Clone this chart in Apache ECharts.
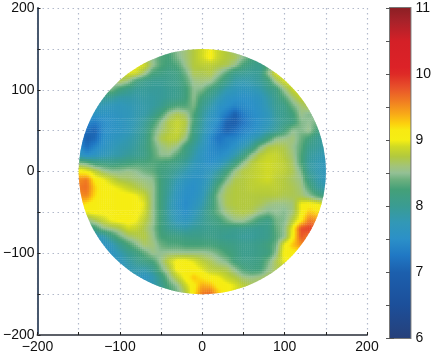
<!DOCTYPE html>
<html><head><meta charset="utf-8">
<style>html,body{margin:0;padding:0;background:#fff}#c{width:434px;height:359px}</style>
<script src="https://cdn.jsdelivr.net/npm/echarts@6/dist/echarts.min.js"></script>
</head><body><div id="c"></div>
<script>
// Colour scale
const scaleValues = [6,6.5,7,7.25,7.5,7.75,8,8.25,8.4,8.5,8.6,8.75,8.9,9,9.15,9.25,9.4,9.6,9.8,10,10.1,10.5,10.8,11];
const scaleColors = ['#26407a','#1c4f9a','#1c60ae','#2078c4','#2b90c8','#3298b6','#3a9c92','#44a078','#6db07f','#93c095','#a2c47a','#b2c93e','#d0da24','#f5ee14','#f8ea12','#fcd00e','#f8a818','#f07a22','#e8502a','#de2a26','#dc2227','#d42027','#a8222a','#8c1f24'];
const axisTicks = [-200,-100,0,100,200];
const barTicks = [6,7,8,9,10,11];
// y of each row; each row is centred on x = 0, 10 units per cell
const rowY = [150,140,130,120,110,100,90,80,70,60,50,40,30,20,10,0,-10,-20,-30,-40,-50,-60,-70,-80,-90,-100,-110,-120,-130,-140,-150];
const r150 = [8.3,8.5,8.6,8.75,8.9,9.0,8.85,8.75,8.5];
const r140 = [8.6,8.5,8.3,8.25,8.45,8.6,8.75,8.9,9.05,8.85,8.75,8.7,8.5,8.25,8.15];
const r130 = [9.0,8.9,8.55,8.3,8.2,8.3,8.55,8.75,8.8,8.8,8.75,8.7,8.55,8.25,8.1,8.05,8.3];
const r120 = [8.8,8.95,8.9,8.6,8.25,8.15,8.1,8.15,8.4,8.7,8.7,8.75,8.55,8.3,8.05,8.0,7.95,8.0,8.5,8.95,9.0];
const r110 = [8.55,8.7,8.55,8.2,8.05,8.0,8.0,8.05,8.1,8.3,8.55,8.6,8.55,8.3,8.05,7.85,7.8,7.85,7.95,8.15,8.6,8.9,9.0];
const r100 = [8.4,8.45,8.2,8.05,7.95,7.95,7.95,7.95,8.0,8.05,8.2,8.5,8.45,8.2,8.0,7.8,7.7,7.65,7.7,7.8,8.0,8.15,8.55,8.85,9.0];
const r90 = [8.0,7.95,7.85,7.85,7.85,7.9,7.9,7.95,8.0,8.05,8.2,8.5,8.2,8.0,7.8,7.6,7.55,7.5,7.55,7.65,7.85,8.05,8.3,8.6,8.85];
const r80 = [7.8,7.75,7.7,7.7,7.75,7.8,7.85,7.9,8.0,8.2,8.3,8.3,8.45,8.05,7.85,7.6,7.5,7.4,7.45,7.5,7.6,7.8,8.0,8.1,8.4,8.6,8.75];
const r70 = [7.6,7.6,7.6,7.6,7.65,7.7,7.8,7.85,8.0,8.25,8.55,8.7,8.6,8.3,7.95,7.7,7.5,7.3,7.0,7.3,7.45,7.55,7.7,7.95,8.05,8.2,8.55,8.45,8.55];
const r60 = [7.4,7.3,7.45,7.55,7.6,7.7,7.8,7.95,8.2,8.5,8.75,8.85,8.75,8.25,7.9,7.6,7.45,7.0,6.95,7.2,7.4,7.55,7.7,7.9,8.05,8.15,8.45,8.5,8.4];
const r50 = [7.15,7.05,7.45,7.55,7.6,7.7,7.85,8.0,8.35,8.6,8.75,8.85,8.7,8.15,7.85,7.55,7.3,7.0,7.15,7.35,7.45,7.6,7.8,7.95,8.2,8.5,8.45,8.55,8.2];
const r40 = [7.4,7.0,7.1,7.5,7.6,7.7,7.8,7.9,8.05,8.4,8.7,8.8,8.8,8.55,8.1,7.8,7.45,7.2,7.35,7.4,7.5,7.7,7.9,8.2,8.5,8.55,8.6,8.4,8.2,8.0,7.9];
const r30 = [7.5,7.15,7.4,7.55,7.7,7.8,7.85,7.95,8.1,8.35,8.55,8.65,8.55,8.2,7.95,7.7,7.45,7.35,7.4,7.55,7.75,8.0,8.45,8.7,8.75,8.7,8.55,8.35,8.05,7.95,7.85];
const r20 = [7.7,7.5,7.6,7.7,7.8,7.85,7.95,8.0,8.1,8.3,8.5,8.5,8.3,8.1,7.85,7.6,7.45,7.45,7.55,7.8,8.1,8.5,8.75,8.85,8.85,8.75,8.6,8.3,7.95,7.85,7.75];
const r10 = [8.5,8.4,8.2,8.15,8.1,8.15,8.2,8.25,8.25,8.3,8.25,8.2,8.1,7.95,7.75,7.6,7.5,7.6,7.85,8.15,8.5,8.75,8.85,8.9,8.85,8.8,8.65,8.3,7.9,7.8,7.7];
const r0 = [9.1,9.0,8.8,8.6,8.5,8.5,8.55,8.5,8.4,8.35,8.2,8.1,7.95,7.8,7.65,7.6,7.7,7.9,8.2,8.55,8.75,8.8,8.85,8.9,8.85,8.8,8.7,8.45,7.95,7.8,7.7];
const rm10 = [9.5,9.6,9.1,9.0,8.85,8.7,8.65,8.6,8.55,8.5,8.2,8.0,7.8,7.65,7.55,7.6,7.8,8.1,8.45,8.7,8.75,8.8,8.85,8.9,8.8,8.75,8.65,8.55,8.1,7.85,7.7];
const rm20 = [9.6,9.65,9.25,9.05,9.02,8.95,8.85,8.75,8.65,8.55,8.2,7.95,7.7,7.55,7.5,7.65,7.9,8.35,8.65,8.75,8.75,8.8,8.8,8.8,8.8,8.75,8.7,8.6,8.3,7.95,7.8];
const rm30 = [9.5,9.55,9.2,9.05,9.05,9.05,9.05,9.0,8.85,8.55,8.2,7.9,7.65,7.5,7.55,7.7,8.05,8.5,8.7,8.75,8.75,8.75,8.75,8.75,8.75,8.7,8.7,8.65,8.5,8.3,8.1];
const rm40 = [9.3,9.15,9.05,9.05,9.05,9.05,9.05,9.05,8.95,8.55,8.2,7.85,7.6,7.45,7.6,7.8,8.1,8.45,8.7,8.75,8.75,8.75,8.7,8.6,8.55,8.55,8.6,9.0,9.05,9.0,8.9];
const rm50 = [9.0,9.05,9.05,9.05,9.05,9.05,9.05,8.9,8.55,8.2,7.85,7.65,7.5,7.7,7.9,8.15,8.4,8.6,8.7,8.75,8.7,8.55,8.45,8.5,8.45,8.6,9.0,9.3,9.2];
const rm60 = [8.55,8.7,8.85,9.0,9.05,9.05,9.0,8.8,8.55,8.2,7.9,7.7,7.65,7.8,7.95,8.1,8.2,8.4,8.55,8.55,8.4,8.2,8.1,8.4,8.45,8.75,9.1,9.6,9.5];
const rm70 = [8.0,8.2,8.5,8.6,8.7,8.9,8.85,8.7,8.5,8.2,8.0,7.9,7.85,7.95,8.0,8.05,8.1,8.1,8.05,8.05,8.0,8.0,8.05,8.35,8.5,9.0,9.8,9.9,9.7];
const rm80 = [7.7,7.75,8.1,8.4,8.6,8.7,8.75,8.55,8.25,8.2,8.15,8.1,8.1,8.1,8.1,8.05,8.0,8.0,7.95,7.95,8.0,8.05,8.3,8.5,9.05,9.75,9.6];
const rm90 = [7.6,7.7,8.0,8.25,8.45,8.65,8.6,8.4,8.3,8.3,8.25,8.25,8.25,8.25,8.2,8.15,8.1,8.05,8.05,8.1,8.2,8.4,9.0,9.3,9.5];
const rm100 = [7.55,7.6,7.8,8.0,8.15,8.35,8.55,8.5,8.55,8.55,8.55,8.55,8.55,8.5,8.4,8.25,8.15,8.05,8.05,8.1,8.15,8.5,9.05,9.1,9.1];
const rm110 = [7.6,7.65,7.85,8.0,8.15,8.25,8.55,8.85,9.05,9.05,8.95,8.8,8.7,8.55,8.45,8.2,8.1,8.1,8.15,8.4,8.7,9.0,9.0];
const rm120 = [7.65,7.75,7.85,7.85,8.0,8.4,8.7,9.05,9.05,9.05,8.95,8.8,8.75,8.7,8.5,8.25,8.15,8.2,8.5,8.7,8.7];
const rm130 = [7.7,7.6,7.75,8.1,8.5,8.8,9.05,9.3,9.15,9.05,9.0,8.85,8.75,8.6,8.55,8.6,8.7];
const rm140 = [7.8,7.8,8.0,8.3,8.5,8.85,9.1,9.4,9.35,9.1,9.05,8.95,8.8,8.7,8.7];
const rm150 = [8.2,8.4,8.7,9.15,9.6,9.7,9.3,9.05,8.9];
const rows = [r150,r140,r130,r120,r110,r100,r90,r80,r70,r60,r50,r40,r30,r20,r10,r0,rm10,rm20,rm30,rm40,rm50,rm60,rm70,rm80,rm90,rm100,rm110,rm120,rm130,rm140,rm150];

const STEP = 10, SUB = 4;
const cellData = [];
const lookup = {};
rows.forEach((row, i) => {
  const start = -(row.length - 1) / 2 * STEP;
  row.forEach((v, j) => {
    const x = start + j * STEP, y = rowY[i];
    cellData.push([x, y, v]);
    lookup[x + '_' + y] = v;
  });
});
function colorOf(v) {
  v = Math.max(6, Math.min(11, v));
  let i = 0;
  while (i < scaleValues.length - 2 && v > scaleValues[i + 1]) i++;
  const t = (v - scaleValues[i]) / (scaleValues[i + 1] - scaleValues[i]);
  return echarts.color.lerp(t, [scaleColors[i], scaleColors[i + 1]]);
}
// Shading inside a cell: blends the neighbouring cells as the reference's smooth shading does
function shade(px, py, own) {
  const x0 = Math.floor(px / STEP) * STEP, y0 = Math.floor(py / STEP) * STEP;
  const tx = (px - x0) / STEP, ty = (py - y0) / STEP;
  let sum = 0, w = 0;
  [[x0,y0,(1-tx)*(1-ty)],[x0+STEP,y0,tx*(1-ty)],[x0,y0+STEP,(1-tx)*ty],[x0+STEP,y0+STEP,tx*ty]].forEach(c => {
    const v = lookup[c[0] + '_' + c[1]];
    if (v != null) { sum += v * c[2]; w += c[2]; }
  });
  return w > 0 ? sum / w : own;
}
const minus = s => s < 0 ? '\u2212' + Math.abs(s) : '' + s;
const font = {color:'#111', fontFamily:'"Liberation Sans", Arial, sans-serif', fontSize:14};
const dotted = {show:true, lineStyle:{type:[1.5,3.5], color:'#b2bacb', width:1.2}};

const option = {
  animation:false,
  backgroundColor:'#fff',
  grid:[
    {left:36, top:8, width:331, height:327},
    {left:390, top:8, width:24, height:330, show:true, borderColor:'#777', borderWidth:2, backgroundColor:'transparent'}
  ],
  xAxis:[
    {type:'value', gridIndex:0, min:-200, max:200, interval:50,
     axisLine:{show:true, onZero:false, lineStyle:{color:'#5c6068', width:2}},
     axisTick:{show:true, inside:true, length:3, lineStyle:{color:'#222'}},
     axisLabel:Object.assign({margin:5, showMinLabel:true, showMaxLabel:true, hideOverlap:false,
       formatter:v => axisTicks.includes(v) ? minus(v) : ''}, font),
     splitLine:dotted},
    {type:'value', gridIndex:1, min:0, max:1, show:false}
  ],
  yAxis:[
    {type:'value', gridIndex:0, min:-200, max:200, interval:50,
     axisLine:{show:true, onZero:false, lineStyle:{color:'#48586e', width:2}},
     axisTick:{show:true, inside:true, length:3, lineStyle:{color:'#222'}},
     axisLabel:Object.assign({margin:3, showMinLabel:true, showMaxLabel:true, hideOverlap:false,
       formatter:v => axisTicks.includes(v) ? minus(v) : ''}, font),
     splitLine:dotted},
    {type:'value', gridIndex:1, position:'right', min:6, max:11, interval:0.5,
     axisLine:{show:false},
     axisTick:{show:true, inside:true, length:4, lineStyle:{color:'#555', width:1}},
     axisLabel:Object.assign({margin:5, hideOverlap:false, formatter:v => barTicks.includes(v) ? '' + v : ''}, font),
     splitLine:{show:false}},
    {type:'value', gridIndex:1, position:'left', min:6, max:11, interval:0.5,
     axisLine:{show:false},
     axisTick:{show:true, inside:true, length:4, lineStyle:{color:'#555', width:1}},
     axisLabel:{show:false}, splitLine:{show:false}}
  ],
  series:[
    {type:'custom', name:'field', xAxisIndex:0, yAxisIndex:0, clip:false, z:2,
     encode:{x:0, y:1},
     data:cellData,
     renderItem(params, api){
       const x = api.value(0), y = api.value(1), v = api.value(2);
       const o = api.coord([0, 0]);
       const s = api.size([150, 150]);
       const children = [];
       for (let i = 0; i < SUB; i++) for (let j = 0; j < SUB; j++) {
         const sx = x - STEP/2 + i * STEP / SUB, sy = y + STEP/2 - j * STEP / SUB;
         const a = api.coord([sx, sy]);
         const b = api.coord([sx + STEP / SUB, sy - STEP / SUB]);
         children.push({type:'rect',
           shape:{x:a[0]-0.2, y:a[1]-0.2, width:b[0]-a[0]+0.4, height:b[1]-a[1]+0.4},
           style:{fill:colorOf(shade(sx + STEP/SUB/2, sy - STEP/SUB/2, v))}});
       }
       return {type:'group',
         clipPath:{type:'ellipse', shape:{cx:o[0], cy:o[1], rx:s[0], ry:s[1]}},
         children};
     }},
    {type:'custom', name:'colorbar', xAxisIndex:1, yAxisIndex:1, clip:true, z:1,
     encode:{x:0, y:1},
     data:[[0, 11]],
     renderItem(params, api){
       const a = api.coord([0, 11]), b = api.coord([1, 6]);
       return {type:'rect', shape:{x:a[0], y:a[1], width:b[0]-a[0], height:b[1]-a[1]},
         style:{fill:{type:'linear',x:0,y:0,x2:0,y2:1,
           colorStops:scaleValues.map((v,i)=>({offset:(11-v)/5, color:scaleColors[i]})).reverse()}}};
     }}
  ]
};
echarts.init(document.getElementById('c'), null, {renderer:'canvas'}).setOption(option);
</script></body></html>
